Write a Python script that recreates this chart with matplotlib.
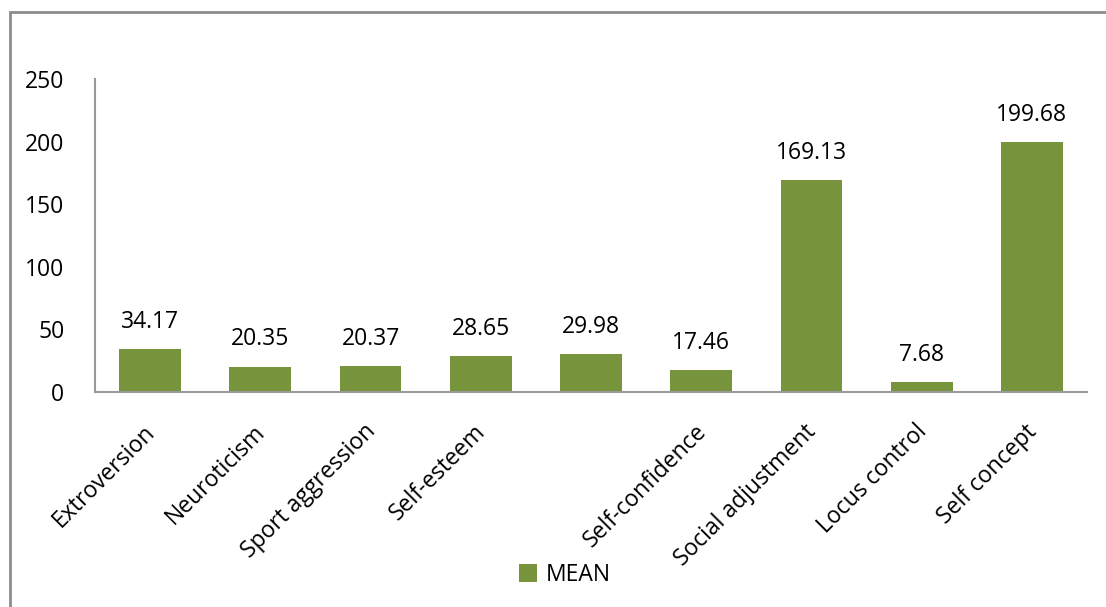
import matplotlib

matplotlib.use("Agg")

import matplotlib.pyplot as plt
import matplotlib.transforms as mtransforms
from matplotlib.patches import Rectangle

categories = [
    "Extroversion",
    "Neuroticism",
    "Sport aggression",
    "Self-esteem",
    "",
    "Self-confidence",
    "Social adjustment",
    "Locus control",
    "Self concept",
]
mean_values = [34.17, 20.35, 20.37, 28.65, 29.98, 17.46, 169.13, 7.68, 199.68]
y_ticks = [0, 50, 100, 150, 200, 250]

BAR_COLOR = "#77933C"
AXIS_COLOR = "#9A9A9A"

plt.rcParams.update(
    {
        "font.family": ["Open Sans", "DejaVu Sans"],
        "font.size": 16.5,
    }
)

fig = plt.figure(figsize=(11.06, 6.07), dpi=100)
ax = fig.add_axes([95 / 1106, 1 - 392 / 607, (1087 - 95) / 1106, (392 - 79) / 607])

x = range(len(categories))
bars = ax.bar(x, mean_values, width=0.56, color=BAR_COLOR, label="MEAN")

for rect, val in zip(bars, mean_values):
    ax.annotate(
        f"{val:.2f}",
        (rect.get_x() + rect.get_width() / 2, rect.get_height()),
        xytext=(0, 11),
        textcoords="offset points",
        ha="center",
        va="bottom",
    )

ax.set_xlim(-0.5, len(categories) - 0.5)
ax.set_ylim(0, 250)
ax.set_yticks(y_ticks)
ax.set_xticks(list(x))
ax.set_xticklabels(categories, rotation=45, ha="right", rotation_mode="anchor")
ax.tick_params(axis="both", length=0)
ax.tick_params(axis="y", pad=22)
ax.tick_params(axis="x", pad=20)

# nudge the slanted category names a little to the left
shift = mtransforms.ScaledTranslation(-7 / 100, 0, fig.dpi_scale_trans)
for lbl in ax.get_xticklabels():
    lbl.set_transform(lbl.get_transform() + shift)

for side in ("top", "right"):
    ax.spines[side].set_visible(False)
for side in ("left", "bottom"):
    ax.spines[side].set_color(AXIS_COLOR)
    ax.spines[side].set_linewidth(1.5)

ax.legend(
    loc="center",
    bbox_to_anchor=(565 / 1106, 1 - 575 / 607),
    bbox_transform=fig.transFigure,
    frameon=False,
    handlelength=0.8,
    handleheight=0.8,
    handletextpad=0.4,
)

# chart frame, open towards the right and bottom edges
fig.patches.append(
    Rectangle(
        (10 / 1106, -0.1),
        1.2,
        1 - 12 / 607 + 0.1,
        transform=fig.transFigure,
        fill=False,
        edgecolor="#8C8C8C",
        linewidth=2,
    )
)

fig.savefig("out.png", dpi=100)
